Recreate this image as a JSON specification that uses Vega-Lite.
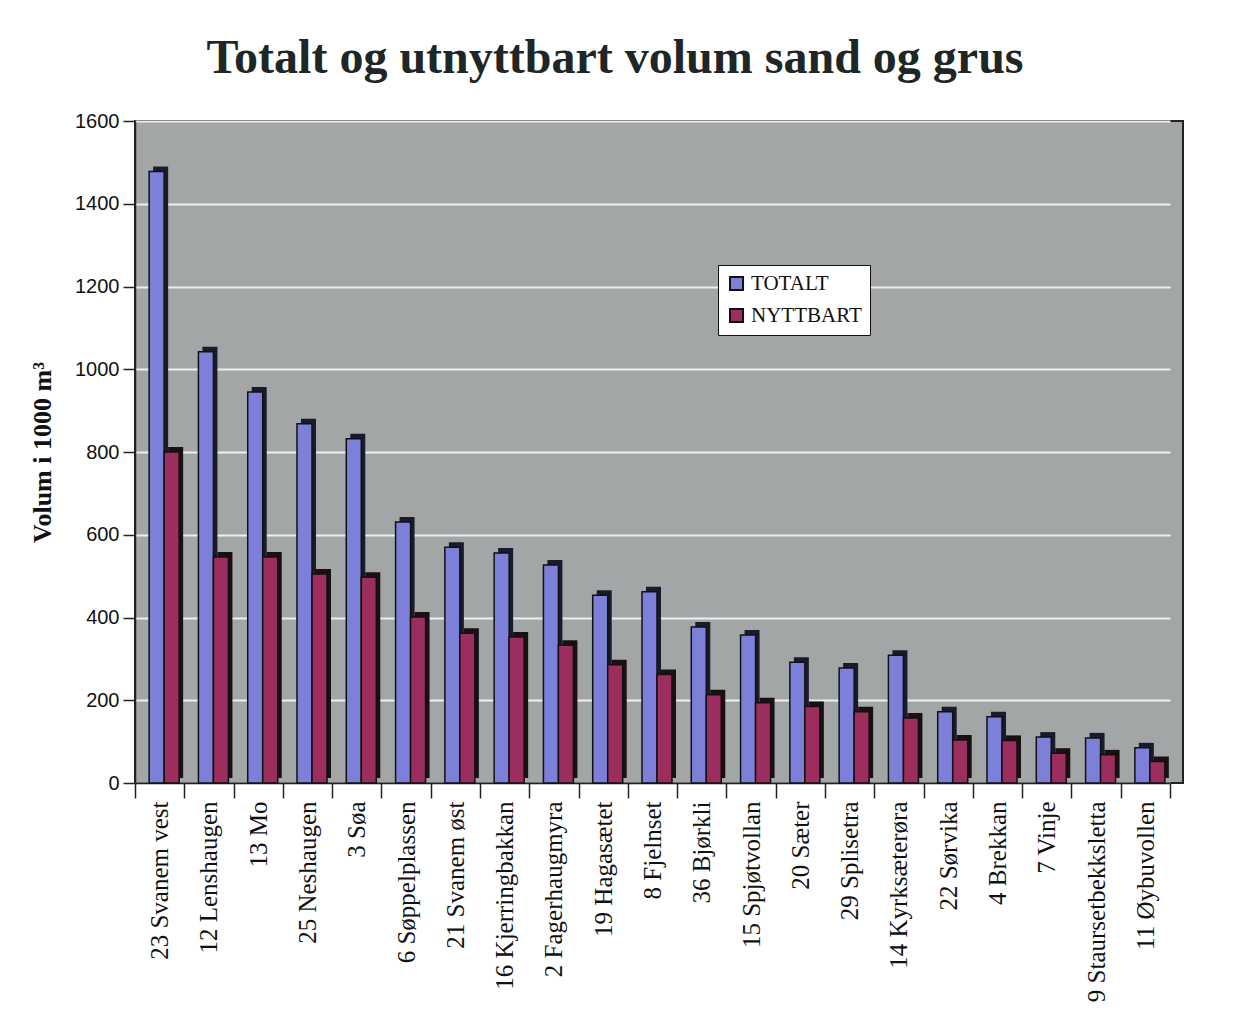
{
  "$schema": "https://vega.github.io/schema/vega-lite/v6.json",
  "width": 1048,
  "height": 662,
  "autosize": {"type": "none"},
  "padding": {"left": 135, "top": 121, "right": 72, "bottom": 232},
  "background": "white",
  "title": {
    "text": "Totalt og utnyttbart volum sand og grus",
    "font": "Liberation Serif",
    "fontSize": 48,
    "fontWeight": "bold",
    "color": "#1e2626",
    "anchor": "middle",
    "dx": -44,
    "offset": 28
  },
  "data": {
    "values": [
      {"sted": "23 Svanem vest", "serie": "TOTALT", "volum": 1478},
      {"sted": "23 Svanem vest", "serie": "NYTTBART", "volum": 800},
      {"sted": "12 Lenshaugen", "serie": "TOTALT", "volum": 1042},
      {"sted": "12 Lenshaugen", "serie": "NYTTBART", "volum": 546},
      {"sted": "13 Mo", "serie": "TOTALT", "volum": 945},
      {"sted": "13 Mo", "serie": "NYTTBART", "volum": 546},
      {"sted": "25 Neshaugen", "serie": "TOTALT", "volum": 868},
      {"sted": "25 Neshaugen", "serie": "NYTTBART", "volum": 505},
      {"sted": "3 Søa", "serie": "TOTALT", "volum": 832},
      {"sted": "3 Søa", "serie": "NYTTBART", "volum": 497},
      {"sted": "6 Søppelplassen", "serie": "TOTALT", "volum": 631},
      {"sted": "6 Søppelplassen", "serie": "NYTTBART", "volum": 401},
      {"sted": "21 Svanem øst", "serie": "TOTALT", "volum": 570},
      {"sted": "21 Svanem øst", "serie": "NYTTBART", "volum": 362},
      {"sted": "16 Kjerringbakkan", "serie": "TOTALT", "volum": 556},
      {"sted": "16 Kjerringbakkan", "serie": "NYTTBART", "volum": 353},
      {"sted": "2 Fagerhaugmyra", "serie": "TOTALT", "volum": 527},
      {"sted": "2 Fagerhaugmyra", "serie": "NYTTBART", "volum": 333},
      {"sted": "19 Hagasætet", "serie": "TOTALT", "volum": 454},
      {"sted": "19 Hagasætet", "serie": "NYTTBART", "volum": 286},
      {"sted": "8 Fjelnset", "serie": "TOTALT", "volum": 462},
      {"sted": "8 Fjelnset", "serie": "NYTTBART", "volum": 262},
      {"sted": "36 Bjørkli", "serie": "TOTALT", "volum": 377},
      {"sted": "36 Bjørkli", "serie": "NYTTBART", "volum": 213},
      {"sted": "15 Spjøtvollan", "serie": "TOTALT", "volum": 358},
      {"sted": "15 Spjøtvollan", "serie": "NYTTBART", "volum": 194},
      {"sted": "20 Sæter", "serie": "TOTALT", "volum": 292},
      {"sted": "20 Sæter", "serie": "NYTTBART", "volum": 185},
      {"sted": "29 Splisetra", "serie": "TOTALT", "volum": 278},
      {"sted": "29 Splisetra", "serie": "NYTTBART", "volum": 172},
      {"sted": "14 Kyrksæterøra", "serie": "TOTALT", "volum": 309},
      {"sted": "14 Kyrksæterøra", "serie": "NYTTBART", "volum": 157},
      {"sted": "22 Sørvika", "serie": "TOTALT", "volum": 172},
      {"sted": "22 Sørvika", "serie": "NYTTBART", "volum": 104},
      {"sted": "4 Brekkan", "serie": "TOTALT", "volum": 160},
      {"sted": "4 Brekkan", "serie": "NYTTBART", "volum": 103},
      {"sted": "7 Vinje", "serie": "TOTALT", "volum": 111},
      {"sted": "7 Vinje", "serie": "NYTTBART", "volum": 72},
      {"sted": "9 Staursetbekksletta", "serie": "TOTALT", "volum": 109},
      {"sted": "9 Staursetbekksletta", "serie": "NYTTBART", "volum": 68},
      {"sted": "11 Øybuvollen", "serie": "TOTALT", "volum": 85},
      {"sted": "11 Øybuvollen", "serie": "NYTTBART", "volum": 52}
    ]
  },
  "encoding": {
    "x": {
      "field": "sted",
      "type": "nominal",
      "sort": null,
      "scale": {"paddingInner": 0, "paddingOuter": 0, "range": [0, 1035]},
      "axis": {
        "title": null,
        "labelAngle": -90,
        "labelFont": "Liberation Serif",
        "labelFontSize": 25,
        "labelColor": "#111",
        "labelPadding": 3,
        "labelLimit": 300,
        "tickBand": "extent",
        "tickSize": 15,
        "tickColor": "#222",
        "tickWidth": 1.5,
        "domainColor": "#222",
        "domainWidth": 1.5,
        "grid": false
      }
    },
    "y": {
      "field": "volum",
      "type": "quantitative",
      "scale": {"domain": [0, 1600]},
      "axis": {
        "title": "Volum i 1000 m³",
        "titleFont": "Liberation Serif",
        "titleFontSize": 26,
        "titleFontWeight": "bold",
        "titleColor": "#111",
        "titleX": -93,
        "titleY": 331,
        "titleBaseline": "middle",
        "titleAngle": -90,
        "values": [0, 200, 400, 600, 800, 1000, 1200, 1400, 1600],
        "format": "d",
        "labelFont": "Liberation Sans",
        "labelFontSize": 20,
        "labelColor": "#111",
        "labelPadding": 4,
        "tickSize": 12,
        "tickColor": "#222",
        "tickWidth": 1.5,
        "domainColor": "#222",
        "domainWidth": 1.5,
        "grid": true,
        "gridColor": "#eef0f0",
        "gridWidth": 2
      }
    }
  },
  "layer": [
    {
      "transform": [{"filter": "datum.serie === 'TOTALT'"}],
      "mark": {"type": "bar", "color": "#1a1a2e", "width": 15, "xOffset": 1, "yOffset": -5}
    },
    {
      "transform": [{"filter": "datum.serie === 'TOTALT'"}],
      "mark": {"type": "bar", "stroke": "#111", "strokeWidth": 1.5, "width": 15, "xOffset": -3},
      "encoding": {
        "color": {
          "field": "serie",
          "type": "nominal",
          "scale": {"domain": ["TOTALT", "NYTTBART"], "range": ["#7c80d8", "#9b2d5f"]},
          "legend": {
            "title": null,
            "orient": "none",
            "legendX": 583,
            "legendY": 144,
            "fillColor": "white",
            "strokeColor": "#111",
            "padding": 8,
            "labelFont": "Liberation Serif",
            "labelFontSize": 21,
            "labelColor": "#111",
            "symbolType": "square",
            "symbolSize": 170,
            "symbolStrokeColor": "#111",
            "symbolStrokeWidth": 2,
            "rowPadding": 9
          }
        }
      }
    },
    {
      "transform": [{"filter": "datum.serie === 'NYTTBART'"}],
      "mark": {"type": "bar", "color": "#1a1012", "width": 15, "xOffset": 16, "yOffset": -5}
    },
    {
      "transform": [{"filter": "datum.serie === 'NYTTBART'"}],
      "mark": {"type": "bar", "stroke": "#111", "strokeWidth": 1.5, "width": 15, "xOffset": 12},
      "encoding": {
        "color": {
          "field": "serie",
          "type": "nominal",
          "scale": {"domain": ["TOTALT", "NYTTBART"], "range": ["#7c80d8", "#9b2d5f"]}
        }
      }
    }
  ],
  "config": {
    "view": {"fill": "#a2a6a6", "stroke": "#222", "strokeWidth": 2}
  }
}
